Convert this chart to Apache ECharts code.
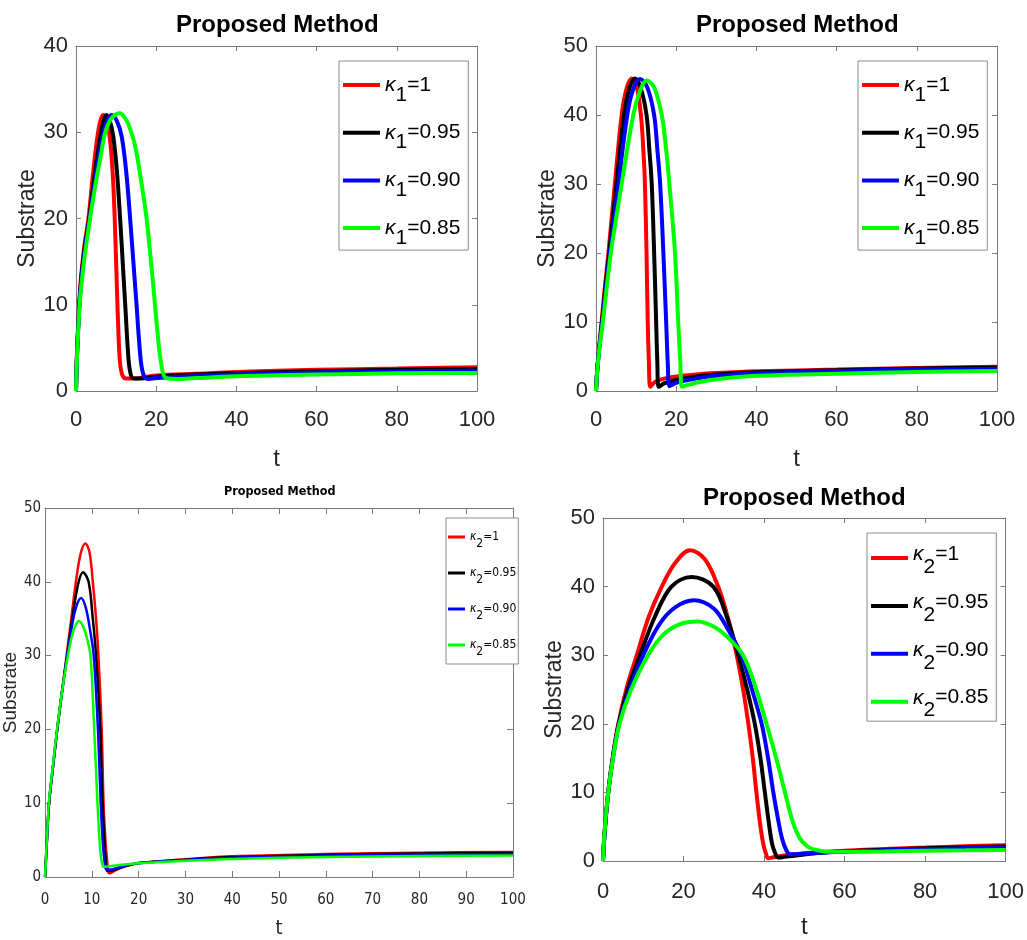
<!DOCTYPE html>
<html><head><meta charset="utf-8">
<script src="https://cdn.jsdelivr.net/npm/echarts@6/dist/echarts.min.js"></script>
<style>html,body{margin:0;padding:0;background:#fff}#c{width:1027px;height:940px}</style>
</head><body><div id="c"></div>
<script>
// ---------- labels / ticks ----------
const kappa1Labels = ['κ1=1', 'κ1=0.95', 'κ1=0.90', 'κ1=0.85'];
const kappa2Labels = ['κ2=1', 'κ2=0.95', 'κ2=0.90', 'κ2=0.85'];
const p1XTicks = [0, 20, 40, 60, 80, 100];
const p1YTicks = [0, 10, 20, 30, 40];
const p2XTicks = [0, 20, 40, 60, 80, 100];
const p2YTicks = [0, 10, 20, 30, 40, 50];
const p3XTicks = [0, 10, 20, 30, 40, 50, 60, 70, 80, 90, 100];
const p3YTicks = [0, 10, 20, 30, 40, 50];
const p4XTicks = [0, 20, 40, 60, 80, 100];
const p4YTicks = [0, 10, 20, 30, 40, 50];
const titleText = 'Proposed Method';
const xName = 't';
const yName = 'Substrate';

// ---------- panel 1 (kappa1, peak ~32) ----------
const p1RedT = [0, 0.3, 1, 2, 3.1, 4.2, 5.2, 6, 6.8, 7.6, 8.3, 8.9, 9.4, 9.8, 10.2, 10.6, 11, 11.6, 12.5, 14, 20, 30, 40, 60, 80, 100];
const p1RedS = [0, 5, 11.7, 16.5, 20, 25, 29, 31.2, 32, 31.5, 29.8, 27, 23, 18, 12, 6.5, 3.2, 1.8, 1.45, 1.45, 1.8, 2.0, 2.2, 2.45, 2.6, 2.75];
const p1BlackT = [0, 0.3, 1, 2, 3.3, 4.5, 5.7, 6.7, 7.6, 8.5, 9.3, 10.2, 11.0, 11.7, 12.4, 12.9, 13.4, 14.2, 16, 20, 30, 40, 60, 80, 100];
const p1BlackS = [0, 4.8, 11.2, 16, 20, 24.5, 28.5, 31, 32, 31.2, 29.5, 25.5, 20, 14.5, 9, 5, 2.5, 1.5, 1.45, 1.65, 1.9, 2.05, 2.3, 2.45, 2.55];
const p1BlueT = [0, 0.3, 1, 2, 3.4, 4.8, 6.2, 7.5, 8.9, 10.2, 11.4, 12.5, 13.5, 14.3, 15.1, 15.7, 16.3, 17, 18, 20, 30, 40, 60, 80, 100];
const p1BlueS = [0, 4.7, 11, 15.7, 20, 24.5, 28.5, 31, 32, 31.3, 29.5, 25.5, 20, 15, 10, 6, 3, 1.7, 1.4, 1.5, 1.75, 1.9, 2.15, 2.3, 2.35];
const p1GreenT = [0, 0.3, 1, 2, 3.5, 5, 6, 7.2, 8.5, 10, 11, 12, 13, 14.7, 16.2, 17.6, 18.7, 19.7, 20.6, 21.3, 22, 23, 25, 30, 40, 60, 80, 100];
const p1GreenS = [0, 4.5, 10.5, 15, 20, 24.3, 26.8, 29.8, 31.4, 32.1, 32.2, 31.8, 31, 28.5, 24.5, 20, 15, 10, 5.5, 3, 1.7, 1.45, 1.4, 1.5, 1.7, 1.9, 2.05, 2.1];

// ---------- panel 2 (kappa1, peak ~45) ----------
const p2RedT = [0, 0.3, 0.8, 1.4, 2.2, 3.1, 4.7, 6.4, 7.6, 8.9, 10.1, 11.2, 11.8, 12.2, 12.6, 12.9, 13.2, 13.5, 14, 15, 17, 20, 25, 30, 40, 60, 80, 100];
const p2RedS = [0, 3, 6.5, 10, 15, 20, 30, 40, 43.8, 45.3, 44.2, 40, 35, 30, 20, 10, 4, 0.6, 0.9, 1.4, 1.8, 2.1, 2.4, 2.6, 2.85, 3.1, 3.35, 3.5];
const p2BlackT = [0, 0.3, 0.8, 1.5, 2.3, 3.3, 5.1, 7, 8.3, 9.7, 11.1, 12.6, 13.3, 13.9, 14.5, 15, 15.3, 15.6, 16.2, 17, 20, 25, 30, 40, 60, 80, 100];
const p2BlackS = [0, 3, 6.3, 10, 14.7, 20, 30, 40, 43.8, 45.3, 44, 40, 35, 30, 20, 10, 4, 0.6, 0.8, 1.1, 1.6, 2.1, 2.4, 2.7, 3.0, 3.25, 3.4];
const p2BlueT = [0, 0.3, 0.8, 1.6, 2.4, 3.5, 5.6, 7.8, 9.3, 11, 12.8, 14.5, 15.3, 16, 16.8, 17.5, 17.9, 18.3, 19, 20, 25, 30, 40, 60, 80, 100];
const p2BlueS = [0, 2.9, 6.1, 10, 14.5, 20, 30, 40, 43.8, 45.2, 44, 40, 35, 30, 20, 10, 4, 0.7, 0.9, 1.2, 1.8, 2.2, 2.55, 2.9, 3.1, 3.2];
const p2GreenT = [0, 0.3, 0.8, 1.7, 2.6, 3.7, 6.4, 9.3, 11, 12.6, 14.5, 16.4, 17.4, 18.3, 19.7, 20.5, 21, 21.4, 22, 23, 25, 30, 40, 60, 80, 100];
const p2GreenS = [0, 2.8, 5.9, 10, 14.6, 20, 30, 40, 43.5, 45, 44, 40, 35.5, 30, 20, 10, 4.5, 0.6, 0.7, 0.9, 1.2, 1.7, 2.2, 2.5, 2.75, 2.9];

// ---------- panel 3 (kappa2, narrow) ----------
const p3RedT = [0, 0.4, 0.85, 1.7, 2.6, 3.6, 4.6, 5.6, 6.6, 7.6, 8.6, 9.5, 10.2, 10.9, 11.4, 12.1, 12.5, 12.9, 13.3, 13.6, 14.2, 15, 17, 20, 30, 40, 60, 80, 100];
const p3RedS = [0, 5, 10, 15, 20, 25, 30, 35, 40, 43.8, 45.2, 44, 40, 35, 30, 20, 10, 5, 2, 0.5, 0.6, 0.9, 1.4, 1.9, 2.4, 2.8, 3.1, 3.3, 3.4];
const p3BlackT = [0, 0.4, 0.85, 1.7, 2.6, 3.6, 4.6, 5.7, 7.0, 8.1, 9.3, 10.2, 10.9, 11.8, 12.3, 12.7, 13.0, 13.3, 14, 15, 17, 20, 30, 40, 60, 80, 100];
const p3BlackS = [0, 5, 10, 15, 20, 25, 29.5, 34.5, 39.5, 41.3, 40, 35, 30, 20, 10, 5, 2, 0.8, 0.8, 1.0, 1.45, 1.9, 2.35, 2.7, 3.0, 3.2, 3.3];
const p3BlueT = [0, 0.4, 0.85, 1.7, 2.6, 3.6, 4.6, 5.6, 6.6, 7.7, 8.7, 9.6, 10.4, 11.3, 11.9, 12.3, 12.7, 13.1, 14, 15, 17, 20, 30, 40, 60, 80, 100];
const p3BlueS = [0, 5, 10, 15, 20, 25, 29.5, 33.5, 36.5, 37.8, 36.5, 33.5, 30, 20, 10, 5, 2.2, 1.0, 1.0, 1.15, 1.5, 1.85, 2.3, 2.6, 2.9, 3.05, 3.1];
const p3GreenT = [0, 0.4, 0.85, 1.7, 2.6, 3.6, 4.6, 5.5, 6.3, 7.2, 8.1, 8.9, 9.7, 10.5, 11.2, 11.8, 12.2, 12.5, 13.5, 15, 17, 20, 30, 40, 60, 80, 100];
const p3GreenS = [0, 5.2, 10.3, 15.3, 20.2, 25, 29, 32, 33.8, 34.7, 34, 32.5, 30, 20, 10, 3.5, 1.8, 1.4, 1.45, 1.55, 1.7, 1.85, 2.2, 2.45, 2.7, 2.85, 2.9];

// ---------- panel 4 (kappa2, wide) ----------
const p4RedT = [0, 0.4, 1.3, 2.5, 3.8, 6, 8.4, 11.3, 14.6, 18, 21.6, 25.3, 28.6, 31, 33.2, 34.8, 36.1, 37.2, 38.1, 39, 39.8, 40.5, 41, 42, 45, 50, 55, 60, 70, 80, 90, 100];
const p4RedS = [0, 4, 10, 15.5, 20, 25.5, 30, 35.5, 40, 43.5, 45.3, 44, 40, 35.5, 30, 25, 20, 15, 10, 5.5, 2.5, 1, 0.4, 0.5, 0.8, 1.1, 1.3, 1.5, 1.75, 1.95, 2.15, 2.3];
const p4BlackT = [0, 0.4, 1.3, 2.5, 3.9, 6.3, 9.2, 12.8, 17, 22, 27.4, 30.8, 33.6, 35.8, 37.7, 39.1, 40.2, 41.2, 42, 42.8, 43.5, 45, 50, 55, 60, 70, 80, 90, 100];
const p4BlackS = [0, 4.1, 10, 15.3, 20, 25.3, 30, 35.5, 40, 41.4, 40, 35.5, 30, 25, 20, 15, 10, 5.5, 2.5, 1.1, 0.5, 0.6, 0.95, 1.25, 1.4, 1.65, 1.85, 2.0, 2.1];
const p4BlueT = [0, 0.4, 1.3, 2.5, 4, 6.8, 10, 14, 18, 22.6, 27.5, 31, 34.4, 37, 39.4, 41, 42.3, 43.5, 44.5, 45.5, 46.4, 48, 50, 55, 60, 70, 80, 90, 100];
const p4BlueS = [0, 4.2, 10, 15.2, 20, 25.3, 30, 34.5, 37, 38, 36.8, 33.8, 30, 25, 20, 15, 10, 6, 3.2, 1.6, 1.0, 1.0, 1.1, 1.25, 1.35, 1.55, 1.7, 1.85, 1.9];
const p4GreenT = [0, 0.4, 1.3, 2.5, 4.1, 7, 11.2, 15, 19, 23.4, 28, 31.5, 34.8, 37.8, 40.6, 43, 45.2, 46.4, 47.6, 48.9, 50.2, 51.4, 53, 55, 60, 70, 80, 90, 100];
const p4GreenS = [0, 4.3, 10, 15, 20, 25, 30, 33, 34.5, 34.9, 34, 32.3, 30, 25.5, 20, 15, 10, 7.2, 4.9, 3.3, 2.4, 1.9, 1.6, 1.4, 1.35, 1.4, 1.5, 1.55, 1.6];

// ---------- styling ----------
const FONT = "'Liberation Sans', Arial, sans-serif";
const NARROW = "'Liberation Sans Narrow', 'DejaVu Sans Condensed', 'Liberation Sans', sans-serif";
const COLORS = ['#ff0000', '#000000', '#0000ff', '#00ff00'];
const AXIS_COLOR = '#7a7a7a';
const TEXT_COLOR = '#262626';

const panels = [
  { grid: { left: 76, top: 46, width: 401, height: 345 }, xt: p1XTicks, yt: p1YTicks,
    t: [p1RedT, p1BlackT, p1BlueT, p1GreenT], s: [p1RedS, p1BlackS, p1BlueS, p1GreenS], names: kappa1Labels,
    font: FONT, tickFs: 22, nameFs: 23, tNameFs: 24, xMargin: 18, yMargin: 8, xGap: 56, yGap: 34, lw: 4, tickLen: 5,
    title: { left: 176, top: 13, fs: 24, font: FONT },
    legend: { left: 339, top: 61, fs: 21, lh: 21, sub: 10, iw: 37, ih: 4, gap: 16.7, tg: 2, pad: [13.5, 8, 1.5, 4] } },
  { grid: { left: 596, top: 46, width: 401, height: 345 }, xt: p2XTicks, yt: p2YTicks,
    t: [p2RedT, p2BlackT, p2BlueT, p2GreenT], s: [p2RedS, p2BlackS, p2BlueS, p2GreenS], names: kappa1Labels,
    font: FONT, tickFs: 22, nameFs: 23, tNameFs: 24, xMargin: 18, yMargin: 8, xGap: 56, yGap: 34, lw: 4, tickLen: 5,
    title: { left: 696, top: 13, fs: 24, font: FONT },
    legend: { left: 858, top: 61, fs: 21, lh: 21, sub: 10, iw: 37, ih: 4, gap: 16.7, tg: 2, pad: [13.5, 8, 1.5, 4] } },
  { grid: { left: 41, top: 508, width: 472, height: 371 }, xt: p3XTicks, yt: p3YTicks,
    t: [p3RedT, p3BlackT, p3BlueT, p3GreenT], s: [p3RedS, p3BlackS, p3BlueS, p3GreenS], names: kappa2Labels,
    font: NARROW, tickFs: 15, nameFs: 19, tNameFs: 20, xMargin: 16, yMargin: 4, xGap: 42, yGap: 20, lw: 2.5, tickLen: 6,
    title: { left: 224, top: 485, fs: 12.5, font: NARROW },
    legend: { left: 446, top: 518, fs: 12, lh: 12, sub: 7, iw: 17, ih: 3, gap: 17, tg: 1, pad: [13, 2, 6, 2] } },
  { grid: { left: 603, top: 518, width: 403, height: 345 }, xt: p4XTicks, yt: p4YTicks,
    t: [p4RedT, p4BlackT, p4BlueT, p4GreenT], s: [p4RedS, p4BlackS, p4BlueS, p4GreenS], names: kappa2Labels,
    font: FONT, tickFs: 22, nameFs: 23, tNameFs: 24, xMargin: 20, yMargin: 8, xGap: 54, yGap: 34, lw: 4, tickLen: 5,
    title: { left: 703, top: 486, fs: 24, font: FONT },
    legend: { left: 867, top: 533, fs: 21, lh: 29, sub: 13, iw: 37, ih: 4, gap: 13.9, tg: 2, pad: [10.5, 8, 0, 4] } }
];

function legendRich(L, family) {
  const base = { fontSize: L.fs, fontFamily: family, lineHeight: L.lh, verticalAlign: 'top', color: '#000' };
  return {
    k: Object.assign({}, base, { fontStyle: 'italic' }),
    s: Object.assign({}, base, { padding: [L.sub, 0, 0, 0] }),
    v: Object.assign({}, base)
  };
}
function legendFormatter(name) {
  const m = name.match(/^κ(\d)=(.*)$/);
  return '{k|κ}{s|' + m[1] + '}{v|=' + m[2] + '}';
}

const option = { animation: false, backgroundColor: '#fff', title: [], grid: [], xAxis: [], yAxis: [], legend: [], series: [] };

panels.forEach((p, gi) => {
  option.grid.push(Object.assign({ containLabel: false, show: false }, p.grid));
  const xr = { min: p.xt[0], max: p.xt[p.xt.length - 1], interval: p.xt[1] - p.xt[0] };
  const yr = { min: p.yt[0], max: p.yt[p.yt.length - 1], interval: p.yt[1] - p.yt[0] };
  const line = { show: true, onZero: false, lineStyle: { color: AXIS_COLOR, width: 1 } };
  const tick = { show: true, inside: true, length: p.tickLen, lineStyle: { color: AXIS_COLOR, width: 1 } };
  option.xAxis.push(Object.assign({
    type: 'value', gridIndex: gi, position: 'bottom', axisLine: line, axisTick: tick, splitLine: { show: false },
    axisLabel: { fontSize: p.tickFs, fontFamily: p.font, color: TEXT_COLOR, margin: p.xMargin },
    name: xName, nameLocation: 'middle', nameGap: p.xGap,
    nameTextStyle: { fontSize: p.tNameFs, fontFamily: p.font, color: TEXT_COLOR }
  }, xr));
  option.xAxis.push(Object.assign({
    type: 'value', gridIndex: gi, position: 'top', axisLine: line, axisTick: tick, splitLine: { show: false },
    axisLabel: { show: false }
  }, xr));
  option.yAxis.push(Object.assign({
    type: 'value', gridIndex: gi, position: 'left', axisLine: line, axisTick: tick, splitLine: { show: false },
    axisLabel: { fontSize: p.tickFs, fontFamily: p.font, color: TEXT_COLOR, margin: p.yMargin },
    name: yName, nameLocation: 'middle', nameGap: p.yGap,
    nameTextStyle: { fontSize: p.nameFs, fontFamily: gi === 2 ? FONT : p.font, color: TEXT_COLOR }
  }, yr));
  option.yAxis.push(Object.assign({
    type: 'value', gridIndex: gi, position: 'right', axisLine: line, axisTick: tick, splitLine: { show: false },
    axisLabel: { show: false }
  }, yr));

  option.title.push({
    text: titleText, left: p.title.left, top: p.title.top, padding: 0,
    textStyle: { fontSize: p.title.fs, fontWeight: 'bold', fontFamily: p.title.font, color: '#000' }
  });

  p.names.forEach((nm, k) => {
    option.series.push({
      type: 'line', name: nm, xAxisIndex: gi * 2, yAxisIndex: gi * 2,
      data: p.t[k].map((tv, i) => [tv, p.s[k][i]]),
      showSymbol: false, smooth: 0.35,
      lineStyle: { color: COLORS[k], width: p.lw }, itemStyle: { color: COLORS[k] },
      z: 2 + k
    });
  });

  const L = p.legend;
  option.legend.push({
    data: p.names, orient: 'vertical', left: L.left, top: L.top,
    icon: 'rect', itemWidth: L.iw, itemHeight: L.ih, itemGap: L.gap, itemTextGap: L.tg,
    padding: L.pad, borderColor: '#8c8c8c', borderWidth: 1, backgroundColor: '#fff',
    selectedMode: false,
    formatter: legendFormatter,
    textStyle: { fontSize: L.fs, fontFamily: p.font, color: '#000', rich: legendRich(L, p.font) }
  });
});

const chart = echarts.init(document.getElementById('c'), null, { renderer: 'canvas' });
chart.setOption(option);
</script>
</body></html>
